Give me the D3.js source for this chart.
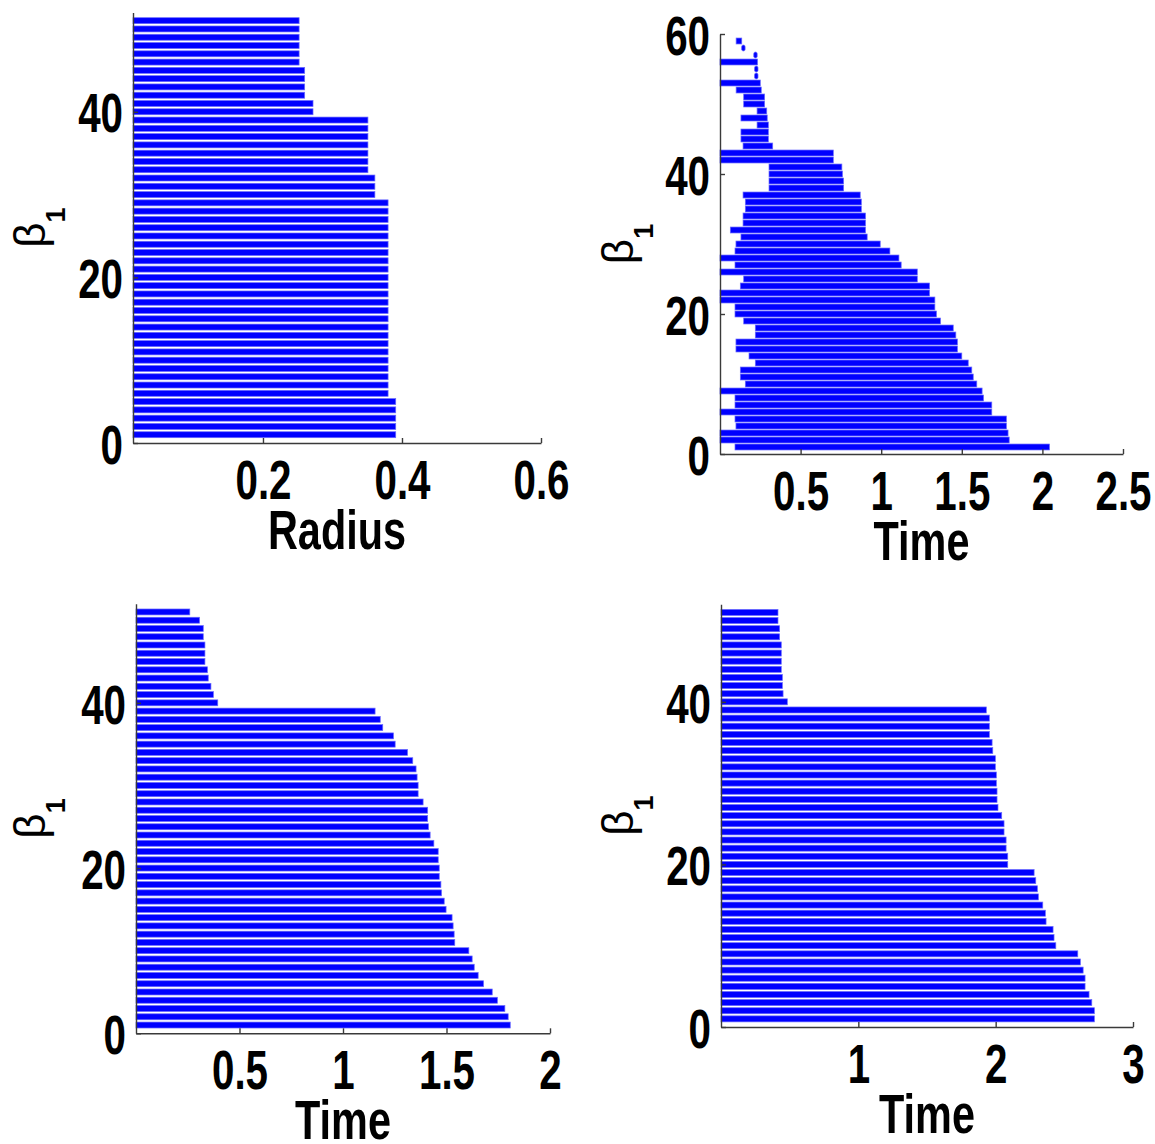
<!DOCTYPE html>
<html><head><meta charset="utf-8">
<script src="https://cdn.jsdelivr.net/npm/d3@7"></script>
<style>body{margin:0;background:#fff} svg{display:block}</style>
</head><body><svg id="c" width="1155" height="1144"></svg>
<script>
// ---------- DATA (bar k = k-th interval, bottom to top) ----------
// Panel A: beta_1 barcode over Radius (all bars born at the axis start)
const radiusBirths = new Array(51).fill(0);
const radiusDeaths = [
  0.391,0.391,0.391,0.391,0.391,
  0.380,0.380,0.380,0.380,0.380,0.380,0.380,0.380,0.380,0.380,0.380,0.380,
  0.380,0.380,0.380,0.380,0.380,0.380,0.380,0.380,0.380,0.380,0.380,0.380,
  0.361,0.361,0.361,
  0.351,0.351,0.351,0.351,0.351,0.351,0.351,
  0.272,0.272,
  0.260,0.260,0.260,0.260,
  0.252,0.252,0.252,0.252,0.252,0.252
];
// Panel B: beta_1 barcode over Time (intervals with births)
const timeBBirths = [
  0.093,0,0,0.099,0.093,0,0.093,0.093,0,0.157,
  0.126,0.126,0.219,0.180,0.099,0.099,0.219,0.219,0.147,0.093,
  0.093,0,0,0.126,0.147,0,0.093,0,0.093,0.099,
  0.130,0.064,0.143,0.143,0.157,0.157,0.143,0.304,0.304,0.304,
  0.304,0,0,0.143,0.130,0.130,0.230,0.130,0.230,0.147,
  0.147,0.100,0,0.217,0.217,0,0.215,0.140,0.100
];
const timeBDeaths = [
  2.044,1.794,1.787,1.777,1.777,1.686,1.686,1.635,1.626,1.593,
  1.571,1.562,1.540,1.500,1.473,1.473,1.463,1.447,1.368,1.343,
  1.333,1.333,1.300,1.300,1.224,1.224,1.124,1.110,1.054,0.994,
  0.913,0.903,0.903,0.903,0.877,0.877,0.870,0.767,0.767,0.760,
  0.756,0.703,0.703,0.327,0.300,0.300,0.300,0.293,0.290,0.277,
  0.277,0.256,0.250,0.233,0.233,0.233,0.225,0.150,0.135
];
// Panel C
const timeCBirths = new Array(51).fill(0);
const timeCDeaths = [
  1.808,1.798,1.782,1.746,1.721,1.679,1.653,1.634,1.624,1.608,
  1.540,1.537,1.532,1.527,1.498,1.489,1.476,1.473,1.465,1.465,
  1.460,1.460,1.439,1.421,1.413,1.409,1.409,1.387,1.363,1.363,
  1.358,1.353,1.337,1.312,1.252,1.244,1.192,1.180,1.155,
  0.395,0.374,0.362,0.349,0.345,0.333,0.333,0.333,0.325,0.325,0.307,0.260
];
// Panel D
const timeDBirths = new Array(51).fill(0);
const timeDDeaths = [
  2.719,2.719,2.700,2.680,2.651,2.651,2.637,2.617,2.598,2.438,
  2.425,2.418,2.367,2.362,2.343,2.311,2.304,2.292,2.280,2.088,
  2.088,2.076,2.076,2.061,2.061,2.044,2.017,2.010,2.010,2.005,
  2.005,1.998,1.998,1.979,1.974,1.954,1.954,1.954,1.932,
  0.483,0.452,0.447,0.447,0.439,0.439,0.439,0.439,0.427,0.427,0.415,0.415
];
const xTicksA = [0.2, 0.4, 0.6];
const xTicksB = [0.5, 1, 1.5, 2, 2.5];
const xTicksC = [0.5, 1, 1.5, 2];
const xTicksD = [1, 2, 3];
const yTicks52 = [0, 20, 40];
const yTicks60 = [0, 20, 40, 60];
const xLabelA = "Radius";
const xLabelTime = "Time";
const yLabelMain = "β";
const yLabelSub = "1";

// ---------- LAYOUT ----------
const panels = [
  {births: radiusBirths, deaths: radiusDeaths, xd:[0.013,0.6], xr:[133,541], yd:[0,52], yr:[443,12.4],
   xt: xTicksA, yt: yTicks52, xl: xLabelA, ylx: 45, band: 0.72},
  {births: timeBBirths, deaths: timeBDeaths, xd:[0,2.5], xr:[720,1123], yd:[0,60], yr:[454,34],
   xt: xTicksB, yt: yTicks60, xl: xLabelTime, ylx: 633, band: 0.85},
  {births: timeCBirths, deaths: timeCDeaths, xd:[0,2], xr:[136,550], yd:[0,52], yr:[1033.3,603.7],
   xt: xTicksC, yt: yTicks52, xl: xLabelTime, ylx: 45, band: 0.72},
  {births: timeDBirths, deaths: timeDDeaths, xd:[0,3], xr:[721,1133], yd:[0,52], yr:[1027,604.3],
   xt: xTicksD, yt: yTicks52, xl: xLabelTime, ylx: 633, band: 0.74}
];

const svg = d3.select("#c");
const FONT = "'Liberation Sans', Arial, Helvetica, sans-serif";
const SX = 0.72;

panels.forEach(p => {
  const x = d3.scaleLinear().domain(p.xd).range(p.xr).clamp(true);
  const y = d3.scaleLinear().domain(p.yd).range(p.yr);
  const g = svg.append("g");
  const h = p.band * (y(0) - y(1));
  const data = p.deaths.map((d, i) => ({k: i + 1, b: p.births[i], d: d}));

  g.selectAll("rect.bar").data(data).join("rect")
    .attr("class", "bar")
    .attr("x", d => {
      const w = x(d.d) - x(d.b);
      return w < 3.5 ? (x(d.b) + x(d.d)) / 2 - 1.75 : x(d.b);
    })
    .attr("width", d => Math.max(3.5, x(d.d) - x(d.b)))
    .attr("y", d => y(d.k) - h / 2)
    .attr("height", h)
    .attr("rx", d => (x(d.d) - x(d.b)) < 3.5 ? 1.75 : 0)
    .attr("fill", "#0000ff")
    .attr("stroke", "#6a6aff")
    .attr("stroke-width", 0.7);

  // x axis
  const ax = g.append("g").attr("transform", `translate(0,${y(0)})`)
    .call(d3.axisBottom(x).tickValues(p.xt).tickSizeInner(-5).tickSizeOuter(0).tickFormat(d => String(d)));
  ax.selectAll("path,line").attr("stroke", "#3a3a3a").attr("stroke-width", 1.4);
  ax.selectAll("text")
    .attr("font-family", FONT).attr("font-weight", "bold").attr("font-size", 56)
    .attr("fill", "#000").attr("dy", null).attr("y", 56)
    .attr("transform", `scale(${SX},1)`);

  // y axis
  const ay = g.append("g").attr("transform", `translate(${p.xr[0]},0)`)
    .call(d3.axisLeft(y).tickValues(p.yt).tickSizeInner(-5).tickSizeOuter(0).tickFormat(d => String(d)));
  ay.selectAll("path,line").attr("stroke", "#3a3a3a").attr("stroke-width", 1.4);
  ay.selectAll("text")
    .attr("font-family", FONT).attr("font-weight", "bold").attr("font-size", 56)
    .attr("fill", "#000").attr("dy", "0.36em").attr("x", -10 / SX)
    .attr("transform", `scale(${SX},1)`);

  // x label
  g.append("text")
    .attr("transform", `translate(${(p.xr[0] + p.xr[1]) / 2},${y(0) + 106}) scale(0.74,1)`)
    .attr("text-anchor", "middle")
    .attr("font-family", FONT).attr("font-weight", "bold").attr("font-size", 56)
    .attr("fill", "#000").text(p.xl);

  // y label (beta_1)
  const yl = g.append("text")
    .attr("transform", `translate(${p.ylx},${(p.yr[0] + p.yr[1]) / 2}) rotate(-90)`)
    .attr("text-anchor", "middle")
    .attr("font-family", FONT).attr("fill", "#000");
  yl.append("tspan").attr("font-size", 44).text(yLabelMain);
  yl.append("tspan").attr("font-size", 27).attr("font-weight", "bold").attr("dy", 20).text(yLabelSub);
});
</script>
</body></html>
